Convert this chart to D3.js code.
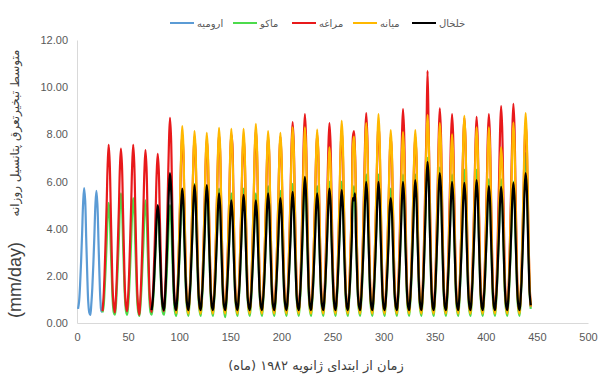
<!DOCTYPE html>
<html><head><meta charset="utf-8">
<script src="https://cdn.jsdelivr.net/npm/d3@7"></script>
<style>body{margin:0;background:#fff}svg{display:block}</style>
</head><body>
<svg id="c" width="598" height="374"></svg>
<script>
// ---- data (monthly mean daily PET, mm/day; month 1 = Jan 1982) ----
const seriesNames = ["ارومیه","ماکو","مراغه","میانه","خلخال"];
const seriesColors = ["#5B9BD5","#4CDB4C","#E8191B","#FFB800","#000000"];
const startMonths = [1, 25, 25, 97, 73];
const xTicks = [0,50,100,150,200,250,300,350,400,450,500];
const yTicks = [0,2,4,6,8,10,12];

const urmia = [
 [0.6,0.9,1.6,2.6,3.8,5.1,5.72,5.2,3.6,2.1,0.9,0.45],
 [0.34,0.8,1.5,2.5,3.7,5.0,5.6,5.0,3.5,2.0,0.9,0.5],
 [0.47]
];
const maku = [
 [0.45,0.7,1.4,2.3,3.4,4.5,5.1,4.6,3.3,2.0,0.9,0.45],
 [0.35,0.7,1.5,2.5,3.6,4.9,5.5,5.0,3.5,2.1,1.0,0.5],
 [0.35,0.7,1.4,2.4,3.5,4.7,5.3,4.8,3.4,2.0,0.9,0.45],
 [0.3,0.7,1.4,2.4,3.4,4.6,5.2,4.7,3.3,2.0,0.9,0.45],
 [0.35,0.7,1.3,2.2,3.3,4.4,4.9,4.4,3.2,1.9,0.9,0.45],
 [0.35,0.7,1.4,2.3,3.3,4.4,5.0,4.5,3.2,1.9,0.9,0.45],
 [0.3,0.7,1.5,2.5,3.7,5.0,5.6,5.1,3.6,2.1,1.0,0.5],
 [0.3,0.8,1.6,2.7,3.9,5.2,5.9,5.3,3.8,2.2,1.0,0.5],
 [0.3,0.8,1.5,2.6,3.8,5.1,5.8,5.3,3.7,2.2,1.0,0.5],
 [0.3,0.8,1.5,2.6,3.8,5.1,5.7,5.2,3.7,2.1,1.0,0.5],
 [0.25,0.7,1.5,2.5,3.6,4.9,5.5,5.0,3.5,2.1,1.0,0.5],
 [0.3,0.8,1.5,2.6,3.8,5.1,5.7,5.2,3.7,2.1,1.0,0.5],
 [0.3,0.7,1.5,2.5,3.6,4.9,5.5,5.0,3.5,2.1,1.0,0.5],
 [0.3,0.8,1.5,2.6,3.8,5.1,5.8,5.3,3.7,2.2,1.0,0.5],
 [0.3,0.7,1.5,2.5,3.7,5.0,5.6,5.1,3.6,2.1,1.0,0.5],
 [0.3,0.8,1.6,2.7,3.9,5.2,5.9,5.3,3.8,2.2,1.0,0.5],
 [0.3,0.8,1.6,2.7,4.0,5.3,6.0,5.4,3.8,2.3,1.0,0.5],
 [0.3,0.8,1.5,2.6,3.8,5.1,5.8,5.3,3.7,2.2,1.0,0.5],
 [0.3,0.8,1.6,2.7,4.0,5.3,6.0,5.4,3.8,2.3,1.0,0.5],
 [0.3,0.8,1.6,2.7,4.0,5.3,6.0,5.4,3.8,2.3,1.0,0.5],
 [0.3,0.8,1.5,2.6,4.2,5.1,5.8,5.3,3.7,2.2,1.0,0.5],
 [0.3,0.8,1.6,2.8,4.2,5.6,6.3,5.7,4.0,2.4,1.0,0.5],
 [0.3,0.8,1.6,2.8,4.2,5.6,6.3,5.7,4.0,2.4,1.0,0.5],
 [0.3,0.8,1.5,2.6,3.8,5.1,5.7,5.2,3.7,2.1,1.0,0.5],
 [0.3,0.8,1.6,2.8,4.2,5.6,6.3,5.7,4.0,2.4,1.0,0.5],
 [0.3,0.8,1.6,2.8,4.2,5.6,6.3,5.7,4.0,2.4,1.0,0.5],
 [0.3,0.9,1.8,3.1,4.6,6.2,7.0,6.3,4.5,2.6,1.1,0.5],
 [0.3,0.8,1.7,3.0,4.3,5.9,6.6,6.0,4.2,2.5,1.1,0.5],
 [0.3,0.8,1.6,2.8,4.2,5.6,6.3,5.7,4.0,2.4,1.0,0.5],
 [0.3,0.8,1.7,2.9,4.3,5.8,6.5,5.9,4.2,2.4,1.1,0.5],
 [0.3,0.8,1.7,2.9,4.3,5.8,6.5,5.9,4.2,2.4,1.1,0.5],
 [0.3,0.8,1.6,2.7,4.0,5.4,6.1,5.5,3.9,2.3,1.0,0.5],
 [0.3,0.8,1.6,2.7,4.0,5.4,6.1,5.5,3.9,2.3,1.0,0.5],
 [0.3,0.8,1.6,2.7,4.0,5.3,6.0,5.4,3.8,2.3,1.0,0.5],
 [0.3,0.9,1.8,3.2,4.7,6.4,7.2,6.5,4.6,2.7,1.2,0.6]
];
const maragheh = [
 [0.5,1.1,2.1,3.5,5.0,6.7,7.55,6.8,4.9,2.9,1.3,0.7],
 [0.45,1.0,2.0,3.4,4.9,6.6,7.4,6.7,4.8,2.9,1.3,0.7],
 [0.5,1.1,2.1,3.5,5.0,6.7,7.55,6.8,4.9,2.9,1.3,0.6],
 [0.35,1.0,2.0,3.4,4.9,6.5,7.33,6.6,4.7,2.8,1.3,0.7],
 [0.47,1.0,2.0,3.3,4.8,6.4,7.17,6.5,4.6,2.8,1.3,0.7],
 [0.5,1.2,2.3,3.9,5.8,7.7,8.7,7.9,5.6,3.3,1.5,0.75],
 [0.5,1.1,2.2,3.7,5.3,7.1,8.0,7.3,5.2,3.1,1.4,0.7],
 [0.5,1.1,2.1,3.6,5.2,7.0,7.9,7.2,5.1,3.0,1.4,0.7],
 [0.5,1.1,2.1,3.6,5.2,6.9,7.8,7.1,5.0,3.0,1.4,0.7],
 [0.5,1.1,2.2,3.7,5.3,7.1,8.0,7.3,5.2,3.1,1.4,0.7],
 [0.5,1.1,2.2,3.7,5.3,7.1,8.0,7.6,5.6,3.1,1.4,0.7],
 [0.5,1.1,2.1,3.6,5.2,7.0,7.9,7.2,5.1,3.0,1.4,0.7],
 [0.5,1.1,2.2,3.7,5.4,7.3,8.2,7.4,5.3,3.1,1.4,0.7],
 [0.5,1.1,2.1,3.6,5.2,7.0,7.9,7.2,5.1,3.0,1.4,0.7],
 [0.45,1.1,2.1,3.6,5.2,7.0,7.9,7.1,5.0,3.0,1.4,0.7],
 [0.5,1.1,2.3,3.9,5.6,7.6,8.52,7.7,5.5,3.2,1.5,0.7],
 [0.5,1.2,2.3,4.0,5.9,7.9,8.86,8.0,5.7,3.3,1.5,0.75],
 [0.5,1.1,2.2,3.7,5.3,7.1,8.0,7.3,5.2,3.1,1.4,0.7],
 [0.5,1.1,2.3,3.9,5.6,7.5,8.48,7.7,5.4,3.2,1.5,0.7],
 [0.5,1.1,2.2,3.7,5.4,7.3,8.2,7.4,5.3,3.1,1.4,0.7],
 [0.5,1.1,2.2,3.7,5.4,7.9,8.14,7.3,5.2,3.1,1.4,0.7],
 [0.5,1.2,2.3,4.0,5.9,7.9,8.9,8.0,5.7,3.3,1.5,0.75],
 [0.5,1.1,2.3,3.9,5.6,7.5,8.5,7.7,5.5,3.2,1.5,0.7],
 [0.5,1.1,2.1,3.6,5.2,7.0,7.9,7.2,5.1,3.0,1.4,0.7],
 [0.5,1.2,2.4,4.1,6.0,8.0,9.07,8.2,5.8,3.4,1.5,0.75],
 [0.5,1.1,2.1,3.6,5.2,7.0,7.9,7.2,5.1,3.0,1.4,0.7],
 [0.5,1.2,2.5,4.3,6.3,8.3,10.69,8.4,6.0,3.5,1.6,0.8],
 [0.5,1.2,2.4,4.1,6.0,8.0,9.1,8.2,5.8,3.4,1.5,0.75],
 [0.5,1.2,2.3,4.0,5.9,7.9,8.86,8.0,5.7,3.3,1.5,0.75],
 [0.5,1.2,2.3,3.9,5.8,7.7,8.7,7.9,5.6,3.3,1.5,0.75],
 [0.5,1.2,2.3,3.9,5.8,7.7,8.74,7.9,5.6,3.3,1.5,0.75],
 [0.5,1.2,2.3,4.0,5.9,7.9,8.86,8.0,5.7,3.3,1.5,0.75],
 [0.5,1.2,2.4,4.2,6.1,8.2,9.2,8.3,5.9,3.5,1.5,0.75],
 [0.5,1.2,2.4,4.2,6.1,8.2,9.29,8.4,5.9,3.5,1.5,0.75],
 [0.5,1.1,2.3,3.9,5.6,7.5,8.5,7.7,5.5,3.2,1.5,0.7]
];
const mianeh = [
 [0.4,1.0,2.2,3.7,5.5,7.4,8.35,7.6,5.3,3.1,1.4,0.6],
 [0.4,1.0,2.1,3.7,5.4,7.2,8.14,7.4,5.2,3.0,1.3,0.6],
 [0.4,1.0,2.1,3.6,5.3,7.1,8.06,7.3,5.1,3.0,1.3,0.6],
 [0.4,1.0,2.1,3.7,5.4,7.3,8.27,7.5,5.3,3.1,1.3,0.6],
 [0.4,1.0,2.1,3.7,5.4,7.3,8.23,7.4,5.3,3.1,1.3,0.6],
 [0.4,1.0,2.1,3.7,5.4,7.3,8.23,7.4,5.3,3.1,1.3,0.6],
 [0.4,1.0,2.2,3.8,5.6,7.5,8.44,7.6,5.4,3.1,1.4,0.6],
 [0.4,1.0,2.1,3.7,5.4,7.2,8.14,7.4,5.2,3.0,1.3,0.6],
 [0.4,1.0,2.1,3.6,5.3,7.1,8.06,7.3,5.1,3.0,1.3,0.6],
 [0.4,1.0,2.2,3.7,5.5,7.3,8.3,7.5,5.3,3.1,1.3,0.6],
 [0.4,1.0,2.2,3.7,5.5,7.3,8.3,7.5,5.3,3.1,1.3,0.6],
 [0.4,1.0,2.1,3.7,5.4,7.2,8.2,7.4,5.2,3.0,1.3,0.6],
 [0.4,1.0,2.0,3.4,4.9,6.6,7.45,6.8,4.8,2.8,1.2,0.6],
 [0.4,1.1,2.2,3.8,5.6,7.6,8.57,7.8,5.5,3.2,1.4,0.6],
 [0.4,1.0,2.1,3.6,5.2,7.5,7.9,7.1,5.0,3.0,1.3,0.6],
 [0.4,1.0,2.2,3.8,5.6,7.5,8.48,7.7,5.4,3.1,1.4,0.6],
 [0.4,1.1,2.3,4.0,5.8,7.8,8.86,8.0,5.7,3.3,1.4,0.6],
 [0.4,1.0,2.1,3.7,5.4,7.2,8.18,7.4,5.2,3.0,1.3,0.6],
 [0.4,1.0,2.1,3.6,5.3,7.2,8.1,7.3,5.2,3.0,1.3,0.6],
 [0.4,1.0,2.1,3.7,5.4,7.2,8.18,7.4,5.2,3.0,1.3,0.6],
 [0.4,1.1,2.3,3.9,5.8,7.8,8.82,8.0,5.6,3.3,1.4,0.6],
 [0.4,1.0,2.2,3.8,5.6,7.5,8.48,7.7,5.4,3.1,1.4,0.6],
 [0.4,1.0,2.1,3.6,5.3,7.1,8.0,7.2,5.1,3.0,1.3,0.6],
 [0.4,1.1,2.3,3.9,5.8,7.8,8.78,7.9,5.6,3.3,1.4,0.6],
 [0.4,1.0,2.2,3.7,5.5,7.3,8.3,7.5,5.3,3.1,1.3,0.6],
 [0.4,1.0,2.2,3.7,5.5,7.3,8.3,7.5,5.3,3.1,1.3,0.6],
 [0.4,1.0,2.0,3.4,4.9,6.6,7.45,6.8,4.8,2.8,1.2,0.6],
 [0.4,1.0,2.2,3.8,5.6,7.5,8.5,7.7,5.4,3.1,1.4,0.6],
 [0.4,1.1,2.3,4.0,5.9,7.9,8.9,8.0,5.7,3.3,1.4,0.7]
];
const khalkhal = [
 [0.55,0.9,1.5,2.4,3.4,4.5,5.0,4.6,3.3,2.1,1.1,0.7],
 [0.55,1.0,1.8,3.0,4.3,5.7,6.36,5.8,4.2,2.5,1.2,0.7],
 [0.55,1.0,1.7,2.7,3.9,5.1,5.7,5.2,3.7,2.3,1.2,0.7],
 [0.55,1.0,1.7,2.8,3.9,5.2,5.85,5.3,3.8,2.4,1.2,0.7],
 [0.55,1.0,1.7,2.8,3.9,5.2,5.85,5.3,3.8,2.4,1.2,0.7],
 [0.55,0.95,1.6,2.6,3.7,4.9,5.5,5.0,3.6,2.2,1.1,0.7],
 [0.55,0.9,1.6,2.5,3.5,4.6,5.2,4.7,3.4,2.1,1.1,0.7],
 [0.55,0.95,1.6,2.6,3.7,4.8,5.43,4.9,3.6,2.2,1.1,0.7],
 [0.55,0.9,1.6,2.5,3.5,4.6,5.2,4.7,3.4,2.1,1.1,0.7],
 [0.55,0.95,1.6,2.6,3.7,4.9,5.5,5.0,3.6,2.2,1.1,0.7],
 [0.55,0.9,1.6,2.5,3.6,4.7,5.3,4.8,3.5,2.1,1.1,0.7],
 [0.55,0.95,1.7,2.6,3.7,5.0,5.56,5.0,3.6,2.2,1.1,0.7],
 [0.55,1.0,1.8,2.9,4.2,5.5,6.2,5.6,4.1,2.5,1.2,0.7],
 [0.55,0.95,1.6,2.6,3.7,4.9,5.5,5.0,3.6,2.2,1.1,0.7],
 [0.55,1.0,1.7,2.7,3.9,5.1,5.7,5.2,3.7,2.3,1.2,0.7],
 [0.55,1.0,1.7,2.7,3.8,5.0,5.64,5.1,3.7,2.3,1.2,0.7],
 [0.55,0.95,1.6,2.6,3.7,5.3,5.2,5.5,3.6,2.2,1.1,0.7],
 [0.55,1.0,1.8,2.8,4.0,5.3,5.98,5.4,3.9,2.4,1.2,0.7],
 [0.55,1.0,1.8,2.8,4.0,5.3,5.98,5.4,3.9,2.4,1.2,0.7],
 [0.55,0.9,1.6,2.5,3.6,4.9,5.3,4.8,3.5,2.1,1.1,0.7],
 [0.55,1.0,1.8,2.8,4.0,5.3,5.98,5.4,3.9,2.4,1.2,0.7],
 [0.55,1.0,1.8,2.9,4.1,5.4,6.06,5.5,3.9,2.4,1.2,0.7],
 [0.55,1.05,1.9,3.2,4.6,6.1,6.83,6.2,4.4,2.7,1.3,0.7],
 [0.55,1.0,1.8,3.0,4.3,5.7,6.36,5.8,4.2,2.5,1.2,0.7],
 [0.55,1.0,1.8,2.8,4.0,5.3,5.98,5.4,3.9,2.4,1.2,0.7],
 [0.55,1.0,1.8,2.8,4.0,5.3,5.94,5.4,3.9,2.4,1.2,0.7],
 [0.55,1.0,1.8,2.9,4.1,5.4,6.06,5.5,3.9,2.4,1.2,0.7],
 [0.55,1.0,1.7,2.8,3.9,5.2,5.81,5.3,3.8,2.4,1.2,0.7],
 [0.55,1.0,1.7,2.8,3.9,5.2,5.77,5.2,3.8,2.3,1.2,0.7],
 [0.55,1.0,1.8,2.8,4.0,5.3,5.94,5.4,3.9,2.4,1.2,0.7],
 [0.55,1.0,1.8,3.0,4.3,5.7,6.36,5.8,4.2,2.5,1.2,0.75]
];
const xTitle = "زمان از ابتدای ژانویه ۱۹۸۲ (ماه)";
const yTitleFa = "متوسط تبخیرتعرق پتانسیل روزانه";
const yTitleUnit = "(mm/day)";

// ---- drawing ----
const svg = d3.select("#c");
const L = 77, R = 588, T = 40, B = 323;
const x = d3.scaleLinear().domain([0,500]).range([L,R]);
const y = d3.scaleLinear().domain([0,12]).range([B,T]);
const fa = "'DejaVu Sans', 'Noto Sans', sans-serif";
const lat = "'Liberation Sans', Arial, sans-serif";

const allSeries = [urmia, maku, maragheh, mianeh, khalkhal].map((rows,i) => {
  const vals = rows.flat();
  return {name: seriesNames[i], color: seriesColors[i], pts: vals.map((v,j)=>[startMonths[i]+j, v])};
});

// axes
const xAxis = svg.append("g").attr("transform",`translate(0,${B})`)
  .call(d3.axisBottom(x).tickValues(xTicks).tickSize(0).tickPadding(10).tickFormat(d3.format("d")));
xAxis.select(".domain").attr("stroke","#d9d9d9").attr("stroke-width",1);
xAxis.selectAll("text").attr("font-family",lat).attr("font-size",11).attr("fill","#595959");

const yAxis = svg.append("g").attr("transform",`translate(${L},0)`)
  .call(d3.axisLeft(y).tickValues(yTicks).tickSize(0).tickPadding(9).tickFormat(d3.format(".2f")));
yAxis.select(".domain").attr("stroke","#d9d9d9").attr("stroke-width",1);
yAxis.selectAll("text").attr("font-family",lat).attr("font-size",11).attr("fill","#595959");

// lines
const line = d3.line().x(d=>x(d[0])).y(d=>y(d[1])).curve(d3.curveCatmullRom.alpha(0.5));
svg.append("g").selectAll("path").data(allSeries).join("path")
  .attr("d", d=>line(d.pts)).attr("fill","none")
  .attr("stroke", d=>d.color).attr("stroke-width",2.2).attr("stroke-linejoin","round");

// legend
const legX = [170, 233, 292, 353, 412];
const lg = svg.append("g");
allSeries.forEach((s,i)=>{
  lg.append("line").attr("x1",legX[i]).attr("x2",legX[i]+24).attr("y1",23).attr("y2",23)
    .attr("stroke",s.color).attr("stroke-width",2);
  lg.append("text").attr("x",legX[i]+27).attr("y",26.5).attr("font-family",fa)
    .attr("font-size",10).attr("fill","#595959").text(s.name);
});

// titles
svg.append("text").attr("x",316).attr("y",370).attr("text-anchor","middle")
  .attr("direction","rtl").attr("font-family",fa).attr("font-size",13).attr("fill","#404040").text(xTitle);
svg.append("text").attr("transform","translate(19,133) rotate(-90)").attr("text-anchor","middle")
  .attr("direction","rtl").attr("font-family",fa).attr("font-size",12).attr("fill","#404040").text(yTitleFa);
svg.append("text").attr("transform","translate(21,280) rotate(-90)").attr("text-anchor","middle")
  .attr("font-family",lat).attr("font-size",18).attr("fill","#404040").text(yTitleUnit);
</script>
</body></html>
